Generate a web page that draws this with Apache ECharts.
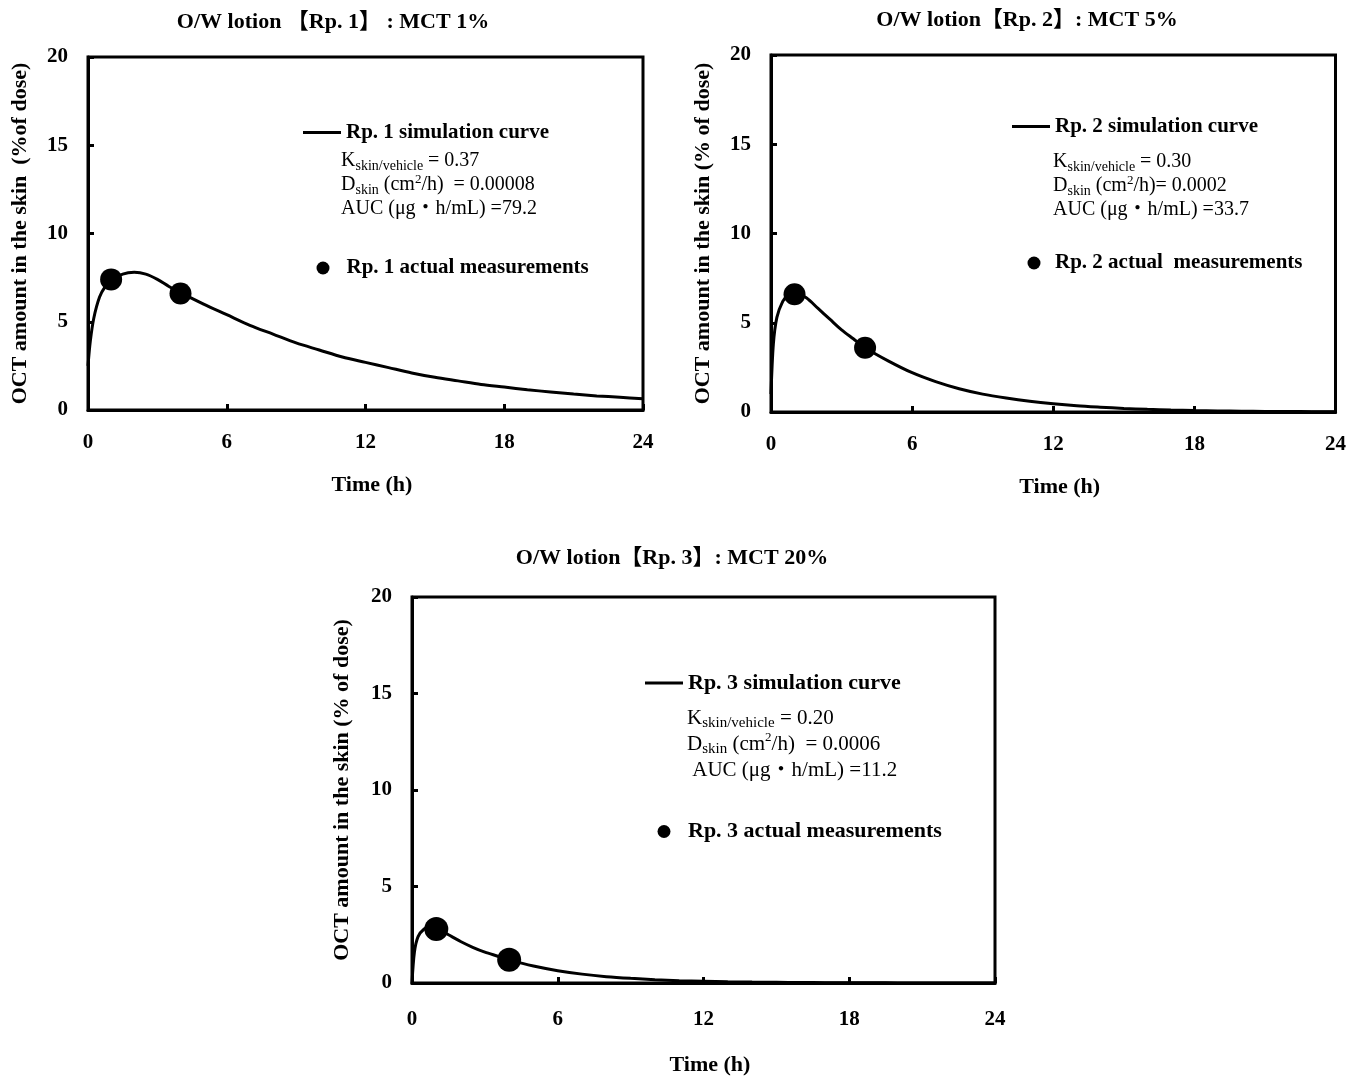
<!DOCTYPE html>
<html>
<head>
<meta charset="utf-8">
<script src="https://cdn.jsdelivr.net/npm/echarts@6/dist/echarts.min.js"></script>
<style>html,body{margin:0;padding:0;background:#fff;}#main{width:1349px;height:1077px;}</style>
</head>
<body>
<div id="main"></div>
<script>
// ---- data ----
const timeH = [0,0.1,0.25,0.5,0.75,1,1.5,2,2.5,3,3.5,4,5,6,7,8,9,10,11,12,13,14,15,16,17,18,19,20,21,22,23,24];
const sim1 = [2.5,3.9,5.2,6.4,7.0,7.35,7.7,7.8,7.7,7.4,7.0,6.65,6.0,5.4,4.8,4.3,3.8,3.4,3.0,2.7,2.4,2.1,1.85,1.65,1.45,1.3,1.15,1.02,0.9,0.8,0.72,0.64];
const sim2 = [1.0,3.8,5.3,6.2,6.6,6.7,6.4,5.8,5.2,4.6,4.1,3.6,2.85,2.2,1.7,1.3,1.0,0.78,0.6,0.46,0.35,0.27,0.2,0.15,0.11,0.08,0.06,0.045,0.033,0.025,0.018,0.013];
const sim3 = [0,1.6,2.4,2.8,2.9,2.85,2.5,2.15,1.85,1.6,1.4,1.2,0.88,0.64,0.46,0.33,0.24,0.17,0.12,0.09,0.065,0.047,0.034,0.024,0.017,0.012,0.009,0.006,0.004,0.003,0.002,0.0015];
const measT = [1, 4];
const meas1 = [7.4, 6.6];
const meas2 = [6.6, 3.6];
const meas3 = [2.8, 1.2];
const titles = ['O/W lotion 【Rp. 1】 : MCT 1%', 'O/W lotion【Rp. 2】: MCT 5%', 'O/W lotion【Rp. 3】: MCT 20%'];
const yNames = ['OCT amount in the skin  (%of dose)', 'OCT amount in the skin (% of dose)', 'OCT amount in the skin (% of dose)'];
const simNames = ['Rp. 1 simulation curve', 'Rp. 2 simulation curve', 'Rp. 3 simulation curve'];
const measNames = ['Rp. 1 actual measurements', 'Rp. 2 actual  measurements', 'Rp. 3 actual measurements'];
const kVals = ['0.37', '0.30', '0.20'];
const dTexts = [')  = 0.00008', ')= 0.0002', ')  = 0.0006'];
const aucTexts = ['AUC (μg・h/mL) =79.2', 'AUC (μg・h/mL) =33.7', ' AUC (μg・h/mL) =11.2'];

// ---- layout ----
const FONT = '"Liberation Serif", "Times New Roman", "Noto Sans CJK JP", serif';
const grids = [
  {left: 88, top: 57, width: 555, height: 353},
  {left: 771, top: 55, width: 565, height: 357},
  {left: 412, top: 597, width: 583, height: 386}
];
const titlePos = [[333, 22], [1027, 20], [672, 558]];
const xNameGap = [64, 64, 71];
const yNameGap = [57, 57, 59];
const xLabelMargin = [22, 22, 26];
const legFont = [21, 21, 22];
const legLine = [[303, 122], [1012, 116], [645, 672]];
const legDot = [[316.5, 257.5], [1027.5, 252.5], [657.5, 820.5]];
const dotPad = [12, 9.5, 12.5];
const paramPos = [[341, 149], [1053, 150], [687, 705]];
const paramFont = [20, 20, 21];
const paramSub = [14, 14, 15];
const paramLH = [24, 24, 26];
const markSize = [22, 22, 24];

const pairs = (xs, ys) => xs.map((x, i) => [x, ys[i]]);
const sims = [sim1, sim2, sim3];
const meas = [meas1, meas2, meas3];

const axisLine = {show: true, lineStyle: {color: '#000', width: 3}};
const labelStyle = {color: '#000', fontFamily: FONT, fontWeight: 'bold', fontSize: 21};

const option = {
  animation: false,
  backgroundColor: '#fff',
  grid: grids.map(g => Object.assign({show: true, borderColor: '#000', borderWidth: 3, backgroundColor: 'transparent'}, g)),
  xAxis: grids.map((g, i) => ({
    gridIndex: i, type: 'value', min: 0, max: 24, interval: 6,
    name: 'Time (h)', nameLocation: 'middle', nameGap: xNameGap[i],
    nameTextStyle: Object.assign({}, labelStyle, {fontSize: 22, padding: [0, 0, 0, 13]}),
    axisLine: axisLine,
    axisTick: {show: true, inside: true, length: 6, lineStyle: {color: '#000', width: 3}},
    axisLabel: Object.assign({margin: xLabelMargin[i]}, labelStyle),
    splitLine: {show: false}
  })),
  yAxis: grids.map((g, i) => ({
    gridIndex: i, type: 'value', min: 0, max: 20, interval: 5,
    name: yNames[i], nameLocation: 'middle', nameGap: yNameGap[i],
    nameTextStyle: Object.assign({}, labelStyle, {fontSize: 22}),
    axisLine: axisLine,
    axisTick: {show: true, inside: true, length: 6, lineStyle: {color: '#000', width: 3}},
    axisLabel: Object.assign({margin: 20}, labelStyle),
    splitLine: {show: false}
  })),
  legend: [],
  series: [],
  graphic: []
};

for (let i = 0; i < 3; i++) {
  option.series.push({
    name: simNames[i], type: 'line', xAxisIndex: i, yAxisIndex: i,
    data: pairs(timeH, sims[i]), smooth: 0.3, symbol: 'none', showSymbol: false,
    lineStyle: {color: '#000', width: 3}, itemStyle: {color: '#000'}, z: 2
  });
  option.series.push({
    name: measNames[i], type: 'scatter', xAxisIndex: i, yAxisIndex: i,
    data: pairs(measT, meas[i]), symbol: 'circle', symbolSize: markSize[i],
    itemStyle: {color: '#000', opacity: 1}, z: 3
  });
  option.legend.push({
    data: [{name: simNames[i], icon: 'rect'}], left: legLine[i][0], top: legLine[i][1], padding: 0,
    itemWidth: 38, itemHeight: 3, itemGap: 0, selectedMode: false,
    itemStyle: {color: '#000', opacity: 1},
    textStyle: Object.assign({}, labelStyle, {fontSize: legFont[i]})
  });
  option.legend.push({
    data: [{name: measNames[i], icon: 'circle'}], left: legDot[i][0], top: legDot[i][1], padding: 0,
    itemWidth: 13, itemHeight: 13, selectedMode: false,
    itemStyle: {color: '#000', opacity: 1},
    textStyle: Object.assign({}, labelStyle, {fontSize: legFont[i], padding: [0, 0, 0, dotPad[i]]})
  });
  option.graphic.push({
    type: 'text', x: titlePos[i][0], y: titlePos[i][1],
    style: {text: titles[i], fill: '#000', font: 'bold 22px ' + FONT, align: 'center', verticalAlign: 'middle'}
  });
  option.graphic.push({
    type: 'text', x: paramPos[i][0], y: paramPos[i][1],
    style: {
      text: '{m|K}{s|skin/vehicle}{m| = ' + kVals[i] + '}\n{m|D}{s|skin}{m| (cm}{p|2}{m|/h' + dTexts[i] + '}\n{m|' + aucTexts[i] + '}',
      fill: '#000',
      rich: {
        m: {fontFamily: FONT, fontSize: paramFont[i], lineHeight: paramLH[i], fill: '#000'},
        s: {fontFamily: FONT, fontSize: paramSub[i], lineHeight: 12, verticalAlign: 'bottom', fill: '#000'},
        p: {fontFamily: FONT, fontSize: 13, lineHeight: 16, verticalAlign: 'top', fill: '#000'}
      }
    }
  });
}

const chart = echarts.init(document.getElementById('main'), null, {renderer: 'canvas'});
chart.setOption(option);
</script>
</body>
</html>
